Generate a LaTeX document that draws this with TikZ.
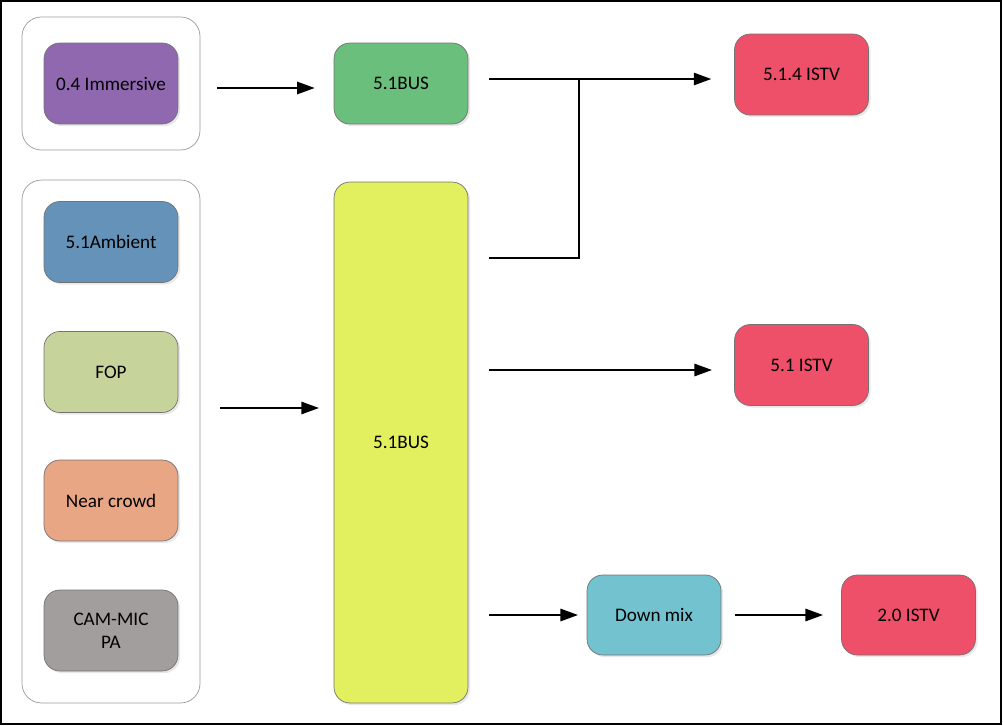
\documentclass[tikz,border=0pt]{standalone}
\usepackage{fontspec}
\setmainfont{Carlito}
\usetikzlibrary{arrows.meta,shadows}
\definecolor{immcol}{HTML}{9068B0}
\definecolor{buscol}{HTML}{6ABF7C}
\definecolor{ambcol}{HTML}{6592B8}
\definecolor{fopcol}{HTML}{C6D49B}
\definecolor{crowdcol}{HTML}{E9A684}
\definecolor{camcol}{HTML}{A39E9E}
\definecolor{yelcol}{HTML}{E2EF5E}
\definecolor{istvcol}{HTML}{EE4F69}
\definecolor{mixcol}{HTML}{72C2D0}
\tikzset{
	box/.style={draw=black!55, thin, rounded corners=9pt, minimum width=2.68cm, minimum height=1.62cm, inner sep=0pt, align=center, font=\fontsize{10.9}{13}\selectfont, drop shadow={opacity=0.18, shadow xshift=1.2pt, shadow yshift=-1.2pt}},
	group/.style={draw=black!40, thin, rounded corners=11pt, minimum width=3.56cm, inner sep=0pt},
	arr/.style={black, line width=1.1pt, -{Triangle[length=10pt,width=7pt]}},
	wire/.style={black, line width=1.1pt}
}
\begin{document}
\begin{tikzpicture}[x=0.02cm, y=-0.02cm]
	\useasboundingbox (0,0) rectangle (1003,726);
	\draw[black, line width=1.2pt] (1,1) rectangle (1001,724);
	
	\node[group, minimum height=2.66cm] (group1) at (111,83.5){};
	\node[group, minimum height=10.46cm] (group2) at (111,441.5){};
	
	\node[box, fill=immcol] (immersive) at (111,83.5){0.4 Immersive};
	\node[box, fill=ambcol] (ambient) at (111,242){5.1Ambient};
	\node[box, fill=fopcol] (fop) at (111,372){FOP};
	\node[box, fill=crowdcol] (crowd) at (111,500.5){Near crowd};
	\node[box, fill=camcol] (cammic) at (111,630.5){CAM-MIC\\PA};
	
	\node[box, fill=buscol] (bustop) at (401,83.5){5.1BUS};
	\node[box, fill=yelcol, minimum height=10.42cm] (bus) at (401,442.5){5.1BUS};
	
	\node[box, fill=istvcol] (istv514) at (801.5,74.5){5.1.4 ISTV};
	\node[box, fill=istvcol] (istv51) at (801.5,365){5.1 ISTV};
	\node[box, fill=mixcol, minimum height=1.6cm] (downmix) at (654,615){Down mix};
	\node[box, fill=istvcol, minimum height=1.6cm] (istv20) at (908.5,615){2.0 ISTV};
	
	\coordinate (junction) at (579,79);
	\coordinate (busout) at (489,258);
	
	\draw[arr, shorten <=9.6pt, shorten >=10.8pt] (group1.east |- 0,88) -- (bustop.west |- 0,88);
	\draw[arr] (group2.east |- 0,408) ++(20,0) -- (319,408);
	\draw[arr, shorten <=12pt, shorten >=13pt] (bustop.east |- junction) -- (istv514.west |- junction);
	\draw[wire] (busout) -| (junction);
	\draw[arr] (bus.east |- 0,370) ++(21,0) -- (712,370);
	\draw[arr] (bus.east |- downmix.west) ++(21,0) -- (578,615);
	\draw[arr] (downmix.east) ++(14,0) -- (823,615);
\end{tikzpicture}
\end{document}
